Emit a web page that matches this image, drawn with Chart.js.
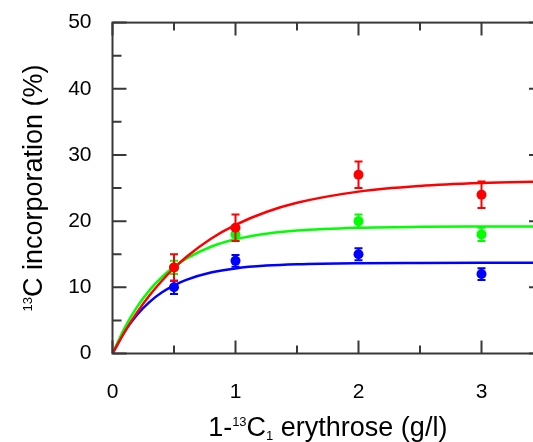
<!DOCTYPE html>
<html>
<head>
<meta charset="utf-8">
<script src="https://cdn.jsdelivr.net/npm/chart.js@4.4.1/dist/chart.umd.min.js"></script>
<style>
  html, body { margin: 0; padding: 0; background: #fff; overflow: hidden; }
  /* the frame runs past the right edge of the picture, so the canvas is wider than the window */
  #wrap { width: 569px; height: 453px; margin-top: -11px; }
</style>
</head>
<body>
<div id="wrap"><canvas id="chart" width="569" height="453"></canvas></div>
<script>
// measured points (g/l vs % incorporation)
const pointX = [0.5, 1, 2, 3];
const redY = [13, 19, 27, 24];
const redErr = [2, 2, 2, 2];
const greenY = [13, 18, 20, 18];
const greenErr = [1, 1, 1, 1];
const blueY = [10, 14, 15, 12];
const blueErr = [1, 0.9, 0.9, 0.9];

// fitted curves
const curveX = [0, 0.1, 0.2, 0.3, 0.4, 0.5, 0.6, 0.8, 1.0, 1.25, 1.5, 2.0, 2.5, 3.0, 3.5];
const redCurve = [0, 3.32, 6.22, 8.75, 10.96, 12.89, 14.58, 17.34, 19.44, 21.38, 22.77, 24.46, 25.31, 25.75, 25.98];
const greenCurve = [0, 3.93, 7.05, 9.54, 11.52, 13.09, 14.34, 16.13, 17.26, 18.10, 18.58, 19.00, 19.14, 19.18, 19.19];
const blueCurve = [0, 3.34, 5.86, 7.77, 9.21, 10.30, 11.13, 12.23, 12.86, 13.28, 13.49, 13.65, 13.69, 13.70, 13.70];

const xTicks = [0, 1, 2, 3];
const yTicks = [0, 10, 20, 30, 40, 50];

const FONT = "Arial, 'Liberation Sans', sans-serif";
const AXIS = '#383838';

const pts = (ys) => ys.map((y, i) => ({ x: pointX[i], y }));
const crv = (ys) => ys.map((y, i) => ({ x: curveX[i], y }));

const pointSet = (ys, err, color) => ({
  data: pts(ys), err, showLine: false,
  pointRadius: 5, pointHoverRadius: 5, pointBorderWidth: 0,
  backgroundColor: color, borderColor: color
});
const curveSet = (ys, color) => ({
  data: crv(ys), showLine: true, pointRadius: 0,
  borderColor: color, borderWidth: 2.5, cubicInterpolationMode: 'monotone'
});

// error bars go under each point dataset
const errorBars = {
  id: 'errorBars',
  beforeDatasetDraw(chart, args) {
    const ds = chart.data.datasets[args.index];
    if (!ds.err) return;
    const { ctx, scales: { x, y } } = chart;
    ctx.save();
    ctx.strokeStyle = ds.backgroundColor;
    ctx.lineWidth = 2;
    ds.data.forEach((p, i) => {
      const px = x.getPixelForValue(p.x);
      const top = y.getPixelForValue(p.y + ds.err[i]);
      const bot = y.getPixelForValue(p.y - ds.err[i]);
      ctx.beginPath();
      ctx.moveTo(px, top); ctx.lineTo(px, bot);
      ctx.moveTo(px - 4, top); ctx.lineTo(px + 4, top);
      ctx.moveTo(px - 4, bot); ctx.lineTo(px + 4, bot);
      ctx.stroke();
    });
    ctx.restore();
  }
};

// draw a string made of runs: [text, size, dy]
function runs(ctx, parts, x0, y0) {
  let w = 0;
  parts.forEach(p => { ctx.font = p[1] + 'px ' + FONT; w += ctx.measureText(p[0]).width; });
  let x = x0 - w / 2;
  parts.forEach(p => {
    ctx.font = p[1] + 'px ' + FONT;
    ctx.fillText(p[0], x, y0 + p[2]);
    x += ctx.measureText(p[0]).width;
  });
}

const frame = {
  id: 'frame',
  afterDraw(chart) {
    const { ctx, chartArea: a, scales: { x, y } } = chart;
    ctx.save();
    ctx.strokeStyle = AXIS;
    ctx.lineWidth = 2;
    ctx.strokeRect(a.left, a.top, a.right - a.left, a.bottom - a.top);
    ctx.beginPath();
    x.ticks.forEach(t => {
      const px = x.getPixelForValue(t.value);
      const len = Number.isInteger(t.value) ? 13 : 8;
      ctx.moveTo(px, a.bottom); ctx.lineTo(px, a.bottom - len);
      ctx.moveTo(px, a.top); ctx.lineTo(px, a.top + len);
    });
    y.ticks.forEach(t => {
      const py = y.getPixelForValue(t.value);
      const len = t.value % 10 === 0 ? 14 : 9;
      ctx.moveTo(a.left, py); ctx.lineTo(a.left + len, py);
      ctx.moveTo(a.right, py); ctx.lineTo(a.right - len, py);
    });
    ctx.stroke();

    ctx.fillStyle = '#000';
    ctx.textBaseline = 'alphabetic';
    ctx.textAlign = 'left';
    runs(ctx, [['1-', 27, 0], ['13', 13, -10], ['C', 27, 0], ['1', 13, 4], [' erythrose (g/l)', 27, 0]],
      (a.left + a.right) / 2, a.bottom + 82.5);

    ctx.translate(41.5, (a.top + a.bottom) / 2);
    ctx.rotate(-Math.PI / 2);
    runs(ctx, [['13', 13, -10], ['C incorporation (%)', 27, 0]], 0, 0);
    ctx.restore();
  }
};

new Chart(document.getElementById('chart'), {
  type: 'scatter',
  data: {
    datasets: [
      pointSet(redY, redErr, '#ff0000'),
      pointSet(greenY, greenErr, '#00ff00'),
      pointSet(blueY, blueErr, '#0000ff'),
      curveSet(redCurve, '#ff0000'),
      curveSet(greenCurve, '#00ff00'),
      curveSet(blueCurve, '#0000ff')
    ]
  },
  options: {
    responsive: false,
    animation: false,
    layout: { padding: 0 },
    plugins: { legend: { display: false }, tooltip: { enabled: false } },
    scales: {
      x: {
        type: 'linear', min: 0, max: 3.5,
        grid: { display: false, drawTicks: false },
        border: { display: false },
        afterFit: s => { s.height = 88.5; },
        ticks: {
          stepSize: 0.5, padding: 26, color: '#000',
          font: { family: FONT, size: 21 },
          callback: v => xTicks.includes(v) ? String(v) : ''
        }
      },
      y: {
        min: 0, max: 50,
        grid: { display: false, drawTicks: false },
        border: { display: false },
        afterFit: s => { s.width = 112.5; },
        ticks: {
          stepSize: 5, padding: 21, color: '#000',
          font: { family: FONT, size: 21 },
          callback: v => yTicks.includes(v) ? String(v) : ''
        }
      }
    }
  },
  plugins: [errorBars, frame]
});
</script>
</body>
</html>
